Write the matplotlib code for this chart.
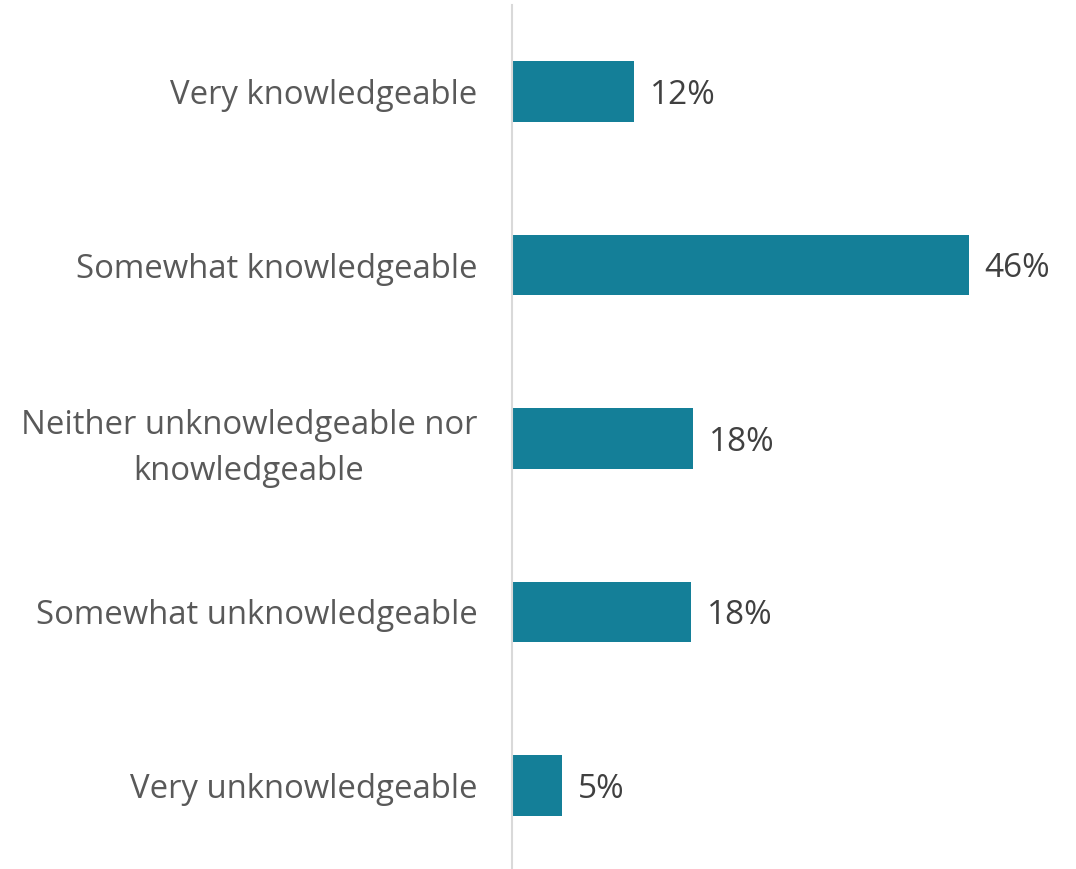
import matplotlib.pyplot as plt
import numpy as np

# --- dati ---
categories = [
    'Very knowledgeable',
    'Somewhat knowledgeable',
    'Neither unknowledgeable nor\nknowledgeable',
    'Somewhat unknowledgeable',
    'Very unknowledgeable',
]
values = [12.3, 46.0, 18.2, 18.0, 5.0]
value_labels = ['12%', '46%', '18%', '18%', '5%']

plt.rcParams['font.family'] = ['Open Sans', 'DejaVu Sans']

fig = plt.figure(figsize=(10.76, 8.69), dpi=100)
ax = fig.add_axes([512 / 1076, -3.25 / 869, (1076 - 512) / 1076, 867.5 / 869])

y = np.arange(len(categories))
ax.barh(y, values, height=0.35, color='#147F98')
ax.set_ylim(len(categories) - 0.5, -0.5)
ax.set_xlim(0, 56.8)

# etichette valori: cifre centrate sulla barra
for yi, v, lab in zip(y, values, value_labels):
    ax.annotate(lab, (v, yi), xytext=(11.5, -8.7), textcoords='offset points',
                va='baseline', ha='left', fontsize=24, color='#404040')

ax.set_yticks(y)
ax.set_yticklabels(categories, fontsize=23.7, color='#595959', linespacing=1.52,
                   ha='right', multialignment='center')
ax.tick_params(axis='y', length=0, pad=25)
ax.set_xticks([])

for s in ['top', 'right', 'bottom']:
    ax.spines[s].set_visible(False)
ax.spines['left'].set_color('#D9D9D9')
ax.spines['left'].set_linewidth(1.5)

fig.savefig('out.png', dpi=100)
